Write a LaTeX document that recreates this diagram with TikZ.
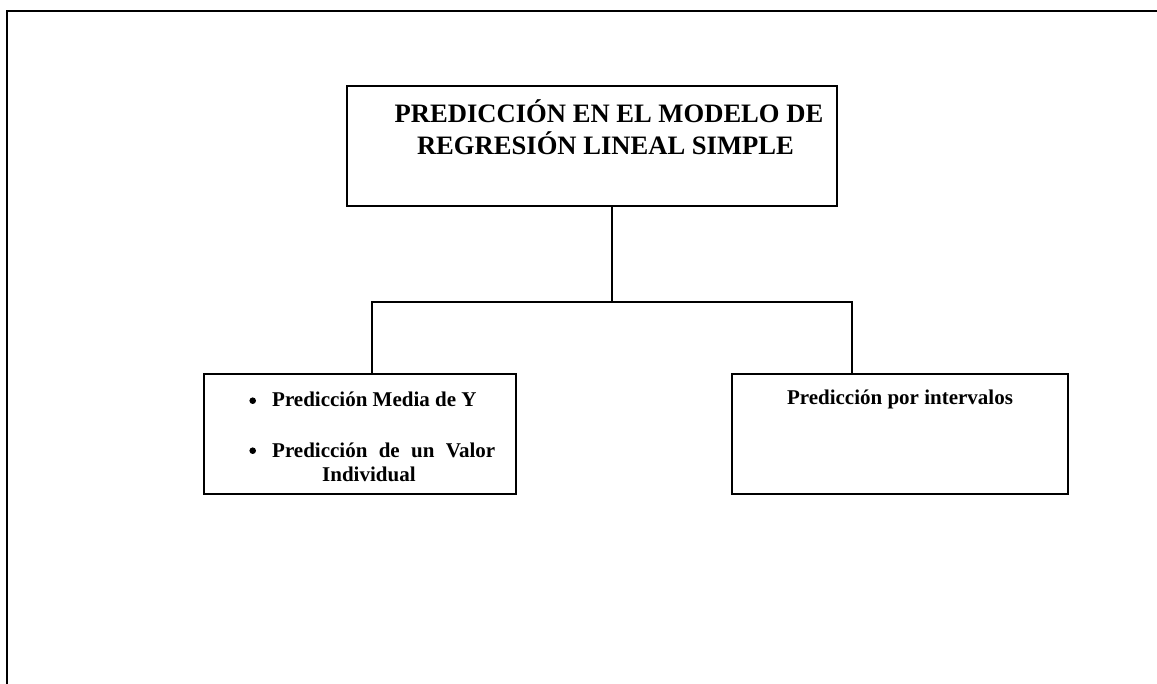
\documentclass[tikz,border=0pt]{standalone}
\usepackage{fontspec}
\setmainfont{Liberation Serif}
\begin{document}
\begin{tikzpicture}[x=1pt,y=-1pt,
  box/.style={draw,line width=1.6pt,inner sep=0pt,minimum width=#1,minimum height=120pt},
  conn/.style={line width=1.3pt},
  title/.style={anchor=base,inner sep=0pt,font=\fontsize{26.6}{32}\selectfont\bfseries},
  txt/.style={anchor=base west,inner sep=0pt,font=\fontsize{21}{24}\selectfont\bfseries},
  dot/.style={circle,fill,inner sep=0pt,minimum size=6.6pt}]
\useasboundingbox (0,0) rectangle (1157,684);
% frame
\draw[line width=2.2pt] (7,684) -- (7,11) -- (1157,11);
% boxes
\node[box=490pt] (main) at (592,146) {};
\node[box=312pt] (left) at (360,434) {};
\node[box=336pt] (right) at (900,434) {};
% title
\node[title] (t1) at (609,123) {PREDICCIÓN EN EL MODELO DE};
\node[title] (t2) at (605.5,155) {REGRESIÓN LINEAL SIMPLE};
% left box text
\node[dot] (b1) at (252.7,400.7) {};
\node[dot] (b2) at (252.7,450.7) {};
\node[txt] (l1) at (272,407) {Predicción Media de Y};
\node[txt] (l2) at (272,457) {\makebox[223pt][s]{Predicción\hfill de\hfill un\hfill Valor}};
\node[txt] (l3) at (322,482) {Individual};
% right box text
\node[txt,anchor=base] (r1) at (900,405) {Predicción por intervalos};
% connectors
\coordinate (j) at (612,302);
\coordinate (jl) at (372,302);
\coordinate (jr) at (852,302);
\draw[conn] (main.south -| j) -- (j);
\draw[conn] (left.north -| jl) -- (jl) -- (jr) -- (right.north -| jr);
\end{tikzpicture}
\end{document}
